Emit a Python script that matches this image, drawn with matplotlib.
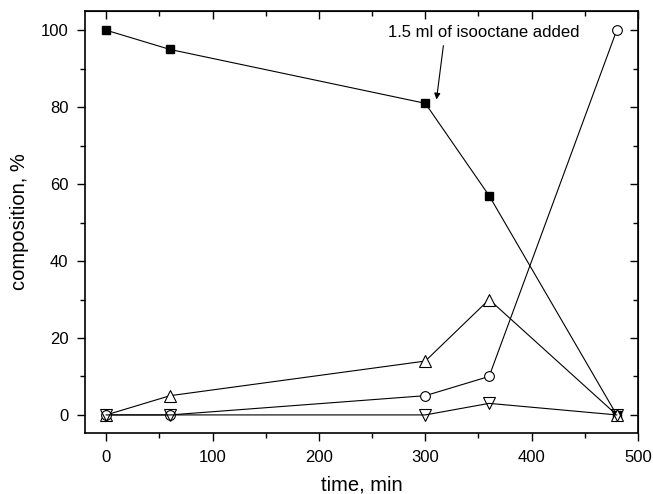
import matplotlib
matplotlib.use("Agg")
import matplotlib.pyplot as plt
from matplotlib.ticker import MultipleLocator

plt.rcParams['font.family'] = ['Liberation Sans', 'DejaVu Sans']

time = [0, 60, 300, 360, 480]
squares = [100, 95, 81, 57, 0]
up_tri = [0, 5, 14, 30, 0]
circles = [0, 0, 5, 10, 100]
down_tri = [0, 0, 0, 3, 0]

fig = plt.figure(figsize=(6.53, 4.94), dpi=100)
ax = fig.add_axes([85/653, 1 - 433/494, (638-85)/653, (433-11)/494])

lw = 0.8
ax.plot(time, squares, '-', color='black', lw=lw, marker='s', ms=6, mfc='black', mec='black', zorder=2)
ax.plot(time, up_tri, '-', color='black', lw=lw, marker='^', ms=8, mfc='white', mec='black', mew=0.8, zorder=3)
ax.plot(time, circles, '-', color='black', lw=lw, marker='o', ms=7, mfc='white', mec='black', mew=0.8, zorder=4)
ax.plot(time, down_tri, '-', color='black', lw=lw, marker='v', ms=8, mfc='none', mec='black', mew=0.8, zorder=5)

ax.set_xlim(-20, 500)
ax.set_ylim(-4.7, 105)
ax.xaxis.set_major_locator(MultipleLocator(100))
ax.xaxis.set_minor_locator(MultipleLocator(50))
ax.yaxis.set_major_locator(MultipleLocator(20))
ax.yaxis.set_minor_locator(MultipleLocator(10))

ax.tick_params(which='both', direction='out', top=False, right=False, labelsize=12, width=1)
ax.tick_params(which='major', length=6, pad=6)
ax.tick_params(which='minor', length=3.5)
for sp in ax.spines.values():
    sp.set_linewidth(1.2)

# mirrored inward ticks on top and right
ax_top = ax.secondary_xaxis('top')
ax_top.xaxis.set_major_locator(MultipleLocator(100))
ax_top.xaxis.set_minor_locator(MultipleLocator(50))
ax_top.tick_params(which='both', direction='in', labeltop=False, width=1)
ax_top.tick_params(which='major', length=6)
ax_top.tick_params(which='minor', length=3.5)
ax_right = ax.secondary_yaxis('right')
ax_right.yaxis.set_major_locator(MultipleLocator(20))
ax_right.yaxis.set_minor_locator(MultipleLocator(10))
ax_right.tick_params(which='both', direction='in', labelright=False, width=1)
ax_right.tick_params(which='major', length=6)
ax_right.tick_params(which='minor', length=3.5)

ax.set_xlabel('time, min', fontsize=14.5, labelpad=8)
ax.set_ylabel('composition, %', fontsize=14.5, labelpad=8)

ax.text(355, 99.5, '1.5 ml of isooctane added', ha='center', va='center', fontsize=12)
ax.annotate('', xy=(310.5, 82), xytext=(317, 96),
            arrowprops=dict(arrowstyle='-|>', color='black', lw=0.8,
                            mutation_scale=9, shrinkA=0, shrinkB=0))

fig.savefig('out.png', dpi=100)
